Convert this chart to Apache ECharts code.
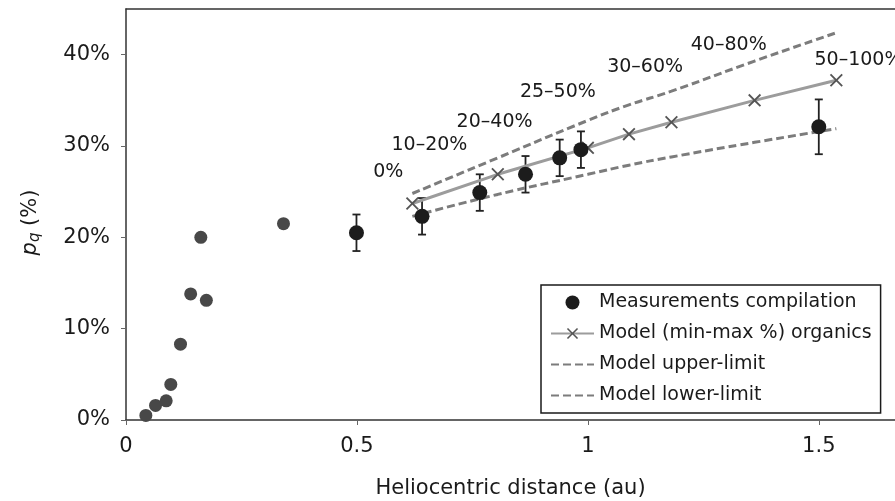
<!DOCTYPE html>
<html>
<head>
<meta charset="utf-8">
<script src="https://cdn.jsdelivr.net/npm/echarts@6/dist/echarts.min.js"></script>
<style>
  html, body { margin: 0; padding: 0; background: #fff; }
  #chart { width: 895px; height: 501px; }
</style>
</head>
<body>
<div id="chart"></div>
<script>
// measurements near the Sun (no error bars)
var nearX = [0.043, 0.064, 0.087, 0.097, 0.118, 0.140, 0.174, 0.162, 0.341];
var nearY = [0.5, 1.6, 2.1, 3.9, 8.3, 13.8, 13.1, 20.0, 21.5];

// measurements with error bars
var measX = [0.499, 0.641, 0.766, 0.865, 0.939, 0.985, 1.50];
var measY = [20.5, 22.3, 24.9, 26.9, 28.7, 29.6, 32.1];
var measErr = [2.0, 2.0, 2.0, 2.0, 2.0, 2.0, 3.0];

// model curves
var modelX = [0.62, 0.805, 1.0, 1.089, 1.181, 1.361, 1.538];
var modelY = [23.7, 26.9, 29.8, 31.3, 32.6, 35.0, 37.2];
var upperY = [24.8, 28.7, 32.8, 34.5, 36.0, 39.3, 42.4];
var lowerY = [22.3, 24.7, 26.9, 27.9, 28.8, 30.4, 31.9];

// organics fraction annotations
var annoText = ['0%', '10\u201320%', '20\u201340%', '25\u201350%', '30\u201360%', '40\u201380%', '50\u2013100%'];
var annoX = [0.568, 0.657, 0.798, 0.935, 1.124, 1.305, 1.586];
var annoY = [27.2, 30.1, 32.6, 35.9, 38.6, 41.1, 39.4];

var xTicks = [0, 0.5, 1, 1.5];
var yTicks = [0, 10, 20, 30, 40];

var font = 'DejaVu Sans';
var ink = '#1a1a1a';

function pairs(xs, ys) {
  return xs.map(function (x, i) { return [x, ys[i]]; });
}

var chart = echarts.init(document.getElementById('chart'));

var crossPath = 'path://M0,1L1,0L5,4L9,0L10,1L6,5L10,9L9,10L5,6L1,10L0,9L4,5Z';

var option = {
  animation: false,
  backgroundColor: '#fff',
  grid: { left: 126, right: 0, top: 9, bottom: 81, containLabel: false, outerBoundsMode: 'none' },
  legend: {
    orient: 'vertical',
    left: 541,
    top: 285,
    padding: [8, 9, 8, 9],
    itemGap: 12,
    itemWidth: 43,
    itemHeight: 14,
    borderColor: ink,
    borderWidth: 1.5,
    backgroundColor: '#fff',
    textStyle: { fontFamily: font, fontSize: 19, color: ink },
    data: [
      'Measurements compilation',
      'Model (min-max %) organics',
      { name: 'Model upper-limit', itemStyle: { opacity: 0 } },
      { name: 'Model lower-limit', itemStyle: { opacity: 0 } }
    ]
  },
  xAxis: [{
    type: 'value',
    min: 0,
    max: 1.665,
    name: 'Heliocentric distance (au)',
    nameLocation: 'middle',
    nameGap: 58,
    nameTextStyle: { fontFamily: font, fontSize: 21, color: ink },
    axisLine: { lineStyle: { color: '#333', width: 1.5 } },
    axisTick: { show: true, inside: false, length: 5, customValues: xTicks, lineStyle: { color: '#666' } },
    axisLabel: { fontFamily: font, fontSize: 21, color: ink, margin: 16, customValues: xTicks },
    splitLine: { show: false }
  }, {
    type: 'value',
    position: 'top',
    min: 0,
    max: 1.665,
    axisLine: { show: true, lineStyle: { color: '#333', width: 1.5 } },
    axisTick: { show: false },
    axisLabel: { show: false },
    splitLine: { show: false }
  }],
  yAxis: {
    type: 'value',
    min: 0,
    max: 45,
    name: '{p|p}{q|q} (%)',
    nameLocation: 'middle',
    nameRotate: 90,
    nameGap: 83,
    nameTextStyle: {
      fontFamily: font, fontSize: 21, color: ink,
      padding: [0, 16, 0, 0],
      rich: {
        p: { fontFamily: font, fontSize: 21, fontStyle: 'italic', color: ink },
        q: { fontFamily: font, fontSize: 15, fontStyle: 'italic', color: ink, verticalAlign: 'bottom', padding: [10, 0, 0, 0] }
      }
    },
    axisLine: { show: true, lineStyle: { color: '#333', width: 1.5 } },
    axisTick: { show: true, inside: false, length: 5, customValues: yTicks, lineStyle: { color: '#666' } },
    axisLabel: { fontFamily: font, fontSize: 21, color: ink, margin: 16, customValues: yTicks, formatter: '{value}%' },
    splitLine: { show: false }
  },
  series: [
    {
      name: 'Model upper-limit',
      type: 'line',
      smooth: true,
      symbol: 'none',
      data: pairs(modelX, upperY),
      lineStyle: { color: '#7c7c7c', width: 3, type: [8, 4] },
      itemStyle: { color: '#7c7c7c' }
    },
    {
      name: 'Model lower-limit',
      type: 'line',
      smooth: true,
      symbol: 'none',
      data: pairs(modelX, lowerY),
      lineStyle: { color: '#7c7c7c', width: 3, type: [8, 4] },
      itemStyle: { color: '#7c7c7c' }
    },
    {
      name: 'Model (min-max %) organics',
      type: 'line',
      symbol: crossPath,
      symbolSize: 13,
      data: pairs(modelX, modelY),
      lineStyle: { color: '#9c9c9c', width: 3 },
      itemStyle: { color: '#555' }
    },
    {
      name: 'Measurements compilation',
      type: 'scatter',
      symbol: 'circle',
      symbolSize: 15,
      data: pairs(measX, measY),
      itemStyle: { color: '#1c1c1c', opacity: 1 },
      z: 4
    },
    {
      type: 'scatter',
      symbol: 'circle',
      symbolSize: 13,
      data: pairs(nearX, nearY),
      itemStyle: { color: '#484848', opacity: 1 }
    },
    {
      type: 'custom',
      data: measX.map(function (x, i) { return [x, measY[i] - measErr[i], measY[i] + measErr[i]]; }),
      encode: { x: 0, y: [1, 2] },
      z: 3,
      renderItem: function (params, api) {
        var x = api.value(0);
        var lo = api.coord([x, api.value(1)]);
        var hi = api.coord([x, api.value(2)]);
        var w = 4;
        var st = { stroke: '#222', lineWidth: 1.8 };
        return {
          type: 'group',
          children: [
            { type: 'line', shape: { x1: hi[0], y1: hi[1], x2: lo[0], y2: lo[1] }, style: st },
            { type: 'line', shape: { x1: hi[0] - w, y1: hi[1], x2: hi[0] + w, y2: hi[1] }, style: st },
            { type: 'line', shape: { x1: lo[0] - w, y1: lo[1], x2: lo[0] + w, y2: lo[1] }, style: st }
          ]
        };
      }
    },
    {
      type: 'scatter',
      symbolSize: 0,
      silent: true,
      itemStyle: { opacity: 1 },
      data: annoText.map(function (t, i) { return { name: t, value: [annoX[i], annoY[i]] }; }),
      label: {
        show: true,
        position: 'inside',
        formatter: function (p) { return p.name; },
        fontFamily: font,
        fontSize: 19,
        color: ink,
        textBorderWidth: 0
      }
    }
  ]
};

chart.setOption(option);
</script>
</body>
</html>
